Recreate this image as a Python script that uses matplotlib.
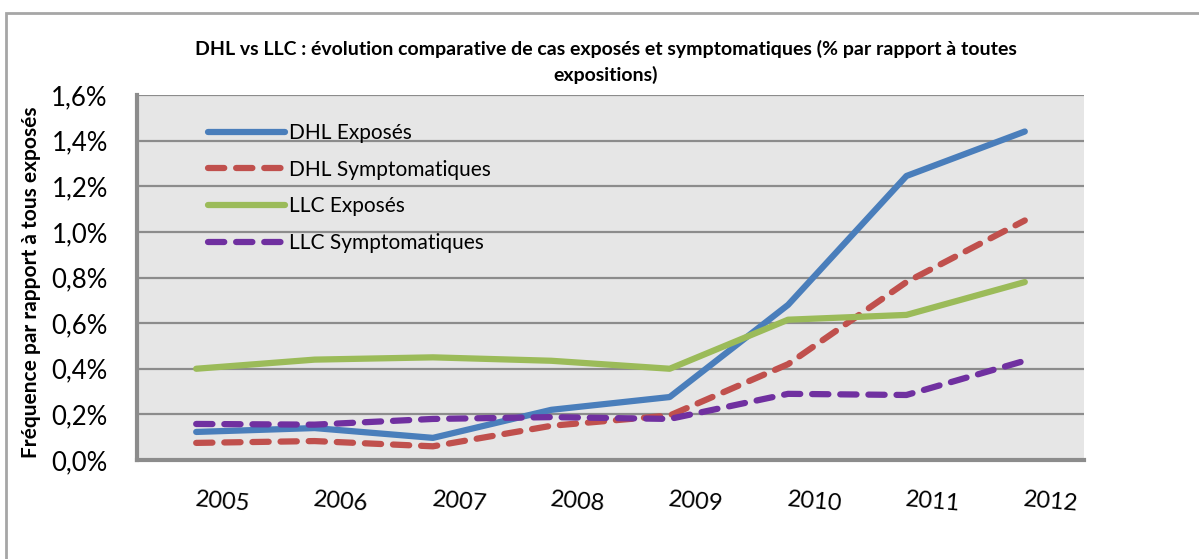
import matplotlib; matplotlib.use("Agg")
import matplotlib.pyplot as plt
from matplotlib.lines import Line2D
from matplotlib.ticker import FuncFormatter

years = ["2005", "2006", "2007", "2008", "2009", "2010", "2011", "2012"]
dhl_exposes = [0.123, 0.14, 0.097, 0.22, 0.276, 0.68, 1.245, 1.44]
dhl_sympto = [0.075, 0.083, 0.06, 0.15, 0.195, 0.42, 0.78, 1.05]
llc_exposes = [0.40, 0.44, 0.45, 0.435, 0.40, 0.615, 0.636, 0.78]
llc_sympto = [0.158, 0.155, 0.18, 0.188, 0.18, 0.29, 0.285, 0.435]

BLUE, RED, GREEN, PURPLE = "#4A7EBB", "#C0504D", "#9BBB59", "#7030A0"
FONT = ["Lato", "DejaVu Sans"]
plt.rcParams["font.family"] = FONT
DASH = (0, (2.6, 1.9))

W, H = 1199, 559
fig = plt.figure(figsize=(W / 100, H / 100), dpi=100)

# outer chart frame
fig.add_artist(plt.Rectangle((6 / W, -0.1), 1.2, 1 - 13 / H + 0.1, transform=fig.transFigure,
                             fill=False, edgecolor="#A6A6A6", lw=2))

ax = fig.add_axes([137 / W, 1 - 460 / H, (1084 - 137) / W, (460 - 95) / H])
ax.set_facecolor("#E6E6E6")
x = range(len(years))
ax.plot(x, dhl_exposes, color=BLUE, lw=4.5, solid_capstyle="round", solid_joinstyle="round")
ax.plot(x, dhl_sympto, color=RED, lw=4.5, ls=DASH, dash_capstyle="round")
ax.plot(x, llc_exposes, color=GREEN, lw=4.5, solid_capstyle="round", solid_joinstyle="round")
ax.plot(x, llc_sympto, color=PURPLE, lw=4.5, ls=DASH, dash_capstyle="round")

ax.set_xlim(-0.5, len(years) - 0.5)
ax.set_ylim(0, 1.6)
ax.set_yticks([i * 0.2 for i in range(9)])
ax.yaxis.set_major_formatter(FuncFormatter(lambda v, p: f"{v:.1f}%".replace(".", ",")))
ax.grid(axis="y", color="#8C8C8C", lw=1.6)
ax.set_axisbelow(True)
ax.tick_params(axis="y", length=0, labelsize=18.5, pad=21)
ax.set_xticks(list(x))
ax.set_xticklabels(years, rotation=-5, fontsize=17, ha="left", rotation_mode="anchor")
ax.tick_params(axis="x", length=0, pad=21)
for s in ["top", "right"]:
    ax.spines[s].set_visible(False)
for s in ["left", "bottom"]:
    ax.spines[s].set_color("#8C8C8C")
    ax.spines[s].set_linewidth(3)

fig.text(31 / W, 1 - 282 / H, "Fréquence par rapport à tous exposés", rotation=90,
         ha="center", va="center", fontsize=15, fontweight="bold")

handles = [
    Line2D([], [], color=BLUE, lw=4.5, solid_capstyle="round"),
    Line2D([], [], color=RED, lw=4.5, ls=DASH, dash_capstyle="round"),
    Line2D([], [], color=GREEN, lw=4.5, solid_capstyle="round"),
    Line2D([], [], color=PURPLE, lw=4.5, ls=DASH, dash_capstyle="round"),
]
labels = ["DHL Exposés", "DHL Symptomatiques", "LLC Exposés", "LLC Symptomatiques"]
ax.legend(handles, labels, loc="upper left", bbox_to_anchor=(0.055, 0.975), frameon=False,
          fontsize=15, handlelength=3.7, handletextpad=0.2, labelspacing=0.8)

fig.text(606 / W, 1 - 62 / H,
         "DHL vs LLC : évolution comparative de cas exposés et symptomatiques (% par rapport à toutes\nexpositions)",
         ha="center", va="center", fontsize=14, fontweight="bold", linespacing=1.55)

fig.savefig("out.png", dpi=100)
